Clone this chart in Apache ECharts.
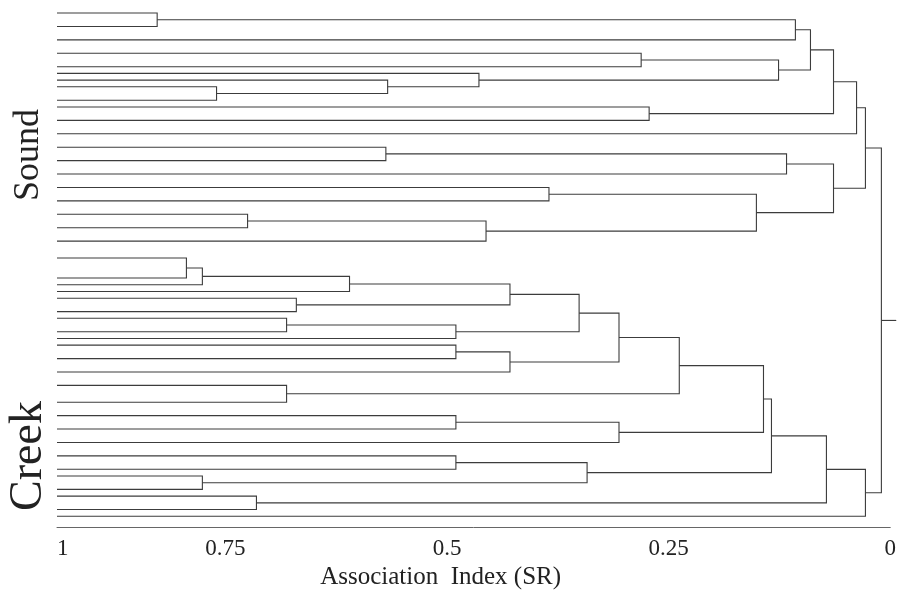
<!DOCTYPE html>
<html><head><meta charset="utf-8">
<script src="https://cdn.jsdelivr.net/npm/echarts@6/dist/echarts.min.js"></script>
<style>html,body{margin:0;padding:0;background:#fff}#c{width:899px;height:597px}</style>
</head><body><div id="c"></div>
<script>
// Leaf order positions (top to bottom, in row units)
const soundRows = [0,2,4,6,8,9,10,11,13,14,16,18,20,22,24,26,28,30,32,34];
const creekRows = [36.5,39.5,40.5,41.5,42.5,44.5,45.5,47.5,48.5,49.5,51.5,53.5,55.5,58,60,62,64,66,68,69,71,72,74,75];
// Merges: [childA, childB, association index]; child < N is a leaf, otherwise N + merge number
const soundMerges = [
  [0, 1, 0.827], [44, 2, 0.107], [3, 4, 0.281], [7, 8, 0.760], [6, 47, 0.567],
  [5, 48, 0.464], [46, 49, 0.126], [45, 50, 0.090], [9, 10, 0.272], [51, 52, 0.064],
  [53, 11, 0.038], [12, 13, 0.569], [55, 14, 0.117], [15, 16, 0.385], [17, 18, 0.725],
  [58, 19, 0.456], [57, 59, 0.151], [56, 60, 0.064], [54, 61, 0.028]
];
const creekMerges = [
  [20, 21, 0.794], [63, 22, 0.776], [64, 23, 0.610], [24, 25, 0.670], [65, 66, 0.429],
  [26, 27, 0.681], [68, 28, 0.490], [67, 69, 0.351], [29, 30, 0.490], [71, 31, 0.429],
  [70, 72, 0.306], [32, 33, 0.681], [73, 74, 0.238], [34, 35, 0.490], [76, 36, 0.306],
  [75, 77, 0.143], [37, 38, 0.490], [39, 40, 0.776], [79, 80, 0.342], [78, 81, 0.134],
  [41, 42, 0.715], [82, 83, 0.072], [84, 43, 0.028]
];
const rootMerge = [62, 85, 0.010];
const tickLabels = ['0', '0.25', '0.5', '0.75', '1'];
const groupLabels = ['Sound', 'Creek'];
const axisTitle = 'Association  Index (SR)';

const X_MAX = 0.94;   // left edge of the plot (leaf level)
const leafRows = soundRows.concat(creekRows);
const merges = soundMerges.concat(creekMerges, [rootMerge]);
const N = leafRows.length;
const nodeY = leafRows.slice();
const nodeH = leafRows.map(() => X_MAX);
merges.forEach(m => {
  nodeY.push((nodeY[m[0]] + nodeY[m[1]]) / 2);
  nodeH.push(m[2]);
});
const data = merges.map((m, i) => [nodeH[m[0]], nodeY[m[0]], nodeH[m[1]], nodeY[m[1]], m[2], nodeY[N + i], i === merges.length - 1 ? 1 : 0]);

const chart = echarts.init(document.getElementById('c'), null, {renderer: 'canvas'});
const lineColor = '#3c3c3c';
chart.setOption({
  backgroundColor: '#ffffff',
  animation: false,
  grid: {left: 57, right: 7, top: 6.3, bottom: 70, containLabel: false},
  xAxis: {
    type: 'value', inverse: true, min: 0, max: X_MAX, interval: 0.25,
    axisLine: {show: true, onZero: false, lineStyle: {color: '#666', width: 1}},
    axisTick: {show: false}, splitLine: {show: false},
    axisLabel: {
      margin: 10, color: '#222', fontSize: 23, fontFamily: 'Liberation Serif',
      alignMaxLabel: 'left',
      formatter: v => Math.abs(v - X_MAX) < 1e-6 ? tickLabels[4] : tickLabels[Math.round(v / 0.25)]
    },
    name: axisTitle, nameLocation: 'middle', nameGap: 37,
    nameTextStyle: {color: '#222', fontSize: 25, fontFamily: 'Liberation Serif', padding: [0, 66, 0, 0]}
  },
  yAxis: {type: 'value', inverse: true, min: -1, max: 76.6, show: false},
  series: [{
    type: 'custom', clip: false, silent: true,
    data: data,
    renderItem: (params, api) => {
      const hA = api.value(0), yA = api.value(1), hB = api.value(2), yB = api.value(3), h = api.value(4), y = api.value(5);
      const pts = [api.coord([hA, yA]), api.coord([h, yA]), api.coord([h, yB]), api.coord([hB, yB])];
      const children = [{type: 'polyline', shape: {points: pts}, style: {stroke: lineColor, lineWidth: 1.1, fill: null}}];
      if (api.value(6) === 1) {
        const a = api.coord([h, y]), b = api.coord([0, y]);
        children.push({type: 'line', shape: {x1: a[0], y1: a[1], x2: b[0] + 6, y2: b[1]}, style: {stroke: lineColor, lineWidth: 1.1}});
      }
      return {type: 'group', children: children};
    }
  }],
  graphic: [
    {type: 'text', x: 29, y: 155, rotation: Math.PI / 2, style: {text: groupLabels[0], font: '36px "Liberation Serif"', fill: '#222', align: 'center', verticalAlign: 'middle'}},
    {type: 'text', x: 29, y: 456, rotation: Math.PI / 2, style: {text: groupLabels[1], font: '46px "Liberation Serif"', fill: '#222', align: 'center', verticalAlign: 'middle'}}
  ]
});
</script></body></html>
